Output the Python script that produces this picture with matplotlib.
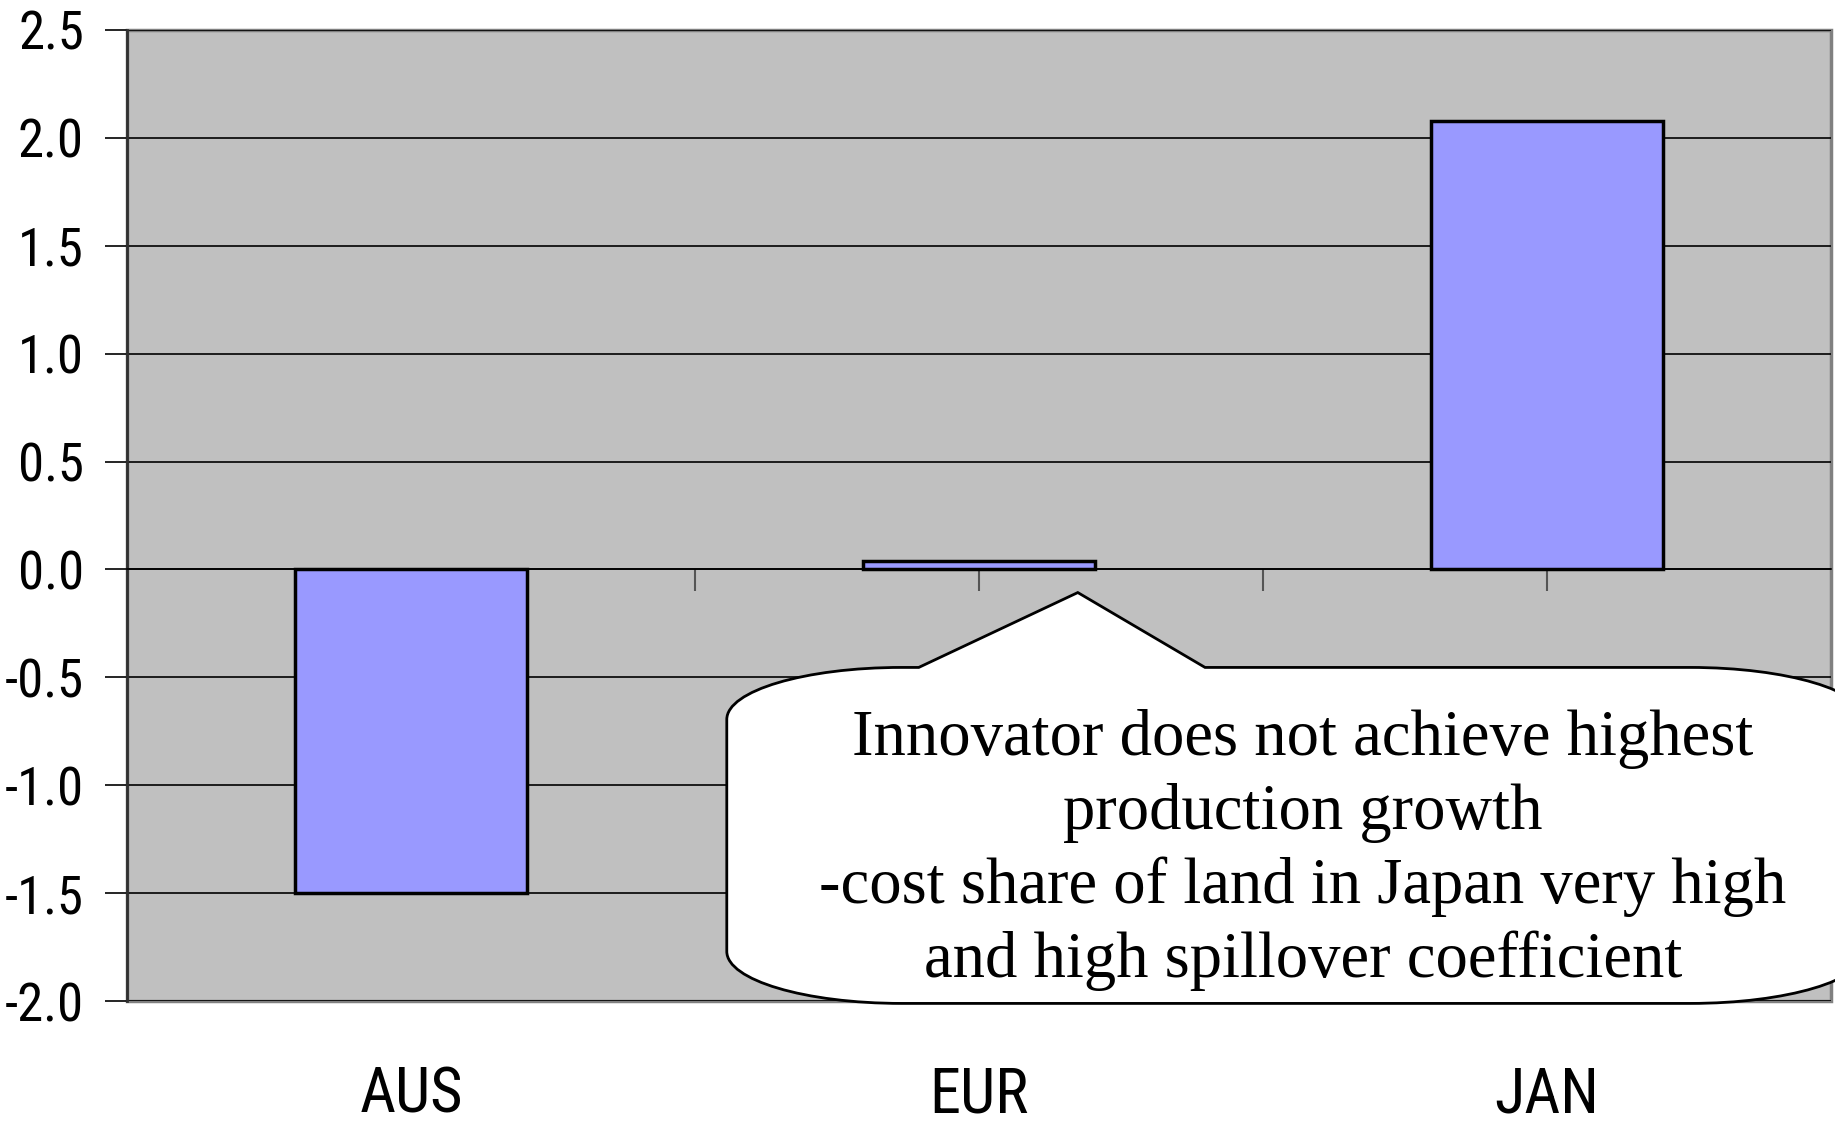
import numpy as np
import matplotlib
matplotlib.use('agg')
import matplotlib.pyplot as plt
from matplotlib import font_manager
from matplotlib.path import Path
from matplotlib.patches import PathPatch
from matplotlib.transforms import blended_transform_factory

# data
regions = ['AUS', 'EUR', 'JAN']
values = [-1.5, 0.04, 2.08]
yticks = [-2.0, -1.5, -1.0, -0.5, 0.0, 0.5, 1.0, 1.5, 2.0, 2.5]
note = ("Innovator does not achieve highest\n"
        "production growth\n"
        "-cost share of land in Japan very high\n"
        "and high spillover coefficient")

# narrow sans like the original, fall back to plain sans at a smaller size
installed = set(f.name for f in font_manager.fontManager.ttflist)
narrow = [n for n in ['Liberation Sans Narrow', 'Roboto Condensed', 'Archivo Narrow']
          if n in installed]
if narrow:
    sans = [narrow[0], 'Liberation Sans', 'DejaVu Sans']
    tick_size, cat_size = 38, 45
else:
    sans = ['Liberation Sans', 'DejaVu Sans']
    tick_size, cat_size = 32, 38
serif = ['Liberation Serif', 'DejaVu Serif']

fig = plt.figure(figsize=(18.35, 11.23), dpi=100)
ax = fig.add_axes([0.0692, 0.1086, 0.9286, 0.8647])

x = np.arange(len(regions))
ax.bar(x, values, width=0.41, color='#9999FF', edgecolor='black',
       linewidth=2.5, zorder=3)

ax.set_xlim(-0.5, len(regions) - 0.5)
ax.set_ylim(-2.0, 2.5)
ax.set_facecolor('#C0C0C0')
ax.patch.set_edgecolor('#808080')
ax.patch.set_linewidth(2.5)

# y axis
ax.set_yticks(yticks)
ax.set_yticklabels(['%.1f' % v for v in yticks], family=sans, fontsize=tick_size)
ax.tick_params(axis='y', direction='out', length=16, width=1.2, pad=15)
ax.grid(axis='y', color='black', linewidth=1.2)
ax.set_axisbelow(True)

# x axis sits on zero, ticks at boundaries and centers
for s in ['top', 'right']:
    ax.spines[s].set_visible(False)
ax.spines['left'].set_color('#303030')
ax.spines['left'].set_linewidth(2)
ax.spines['bottom'].set_position(('data', 0))
ax.spines['bottom'].set_color('black')
ax.spines['bottom'].set_linewidth(1.2)
ax.set_xticks(list(x) + [0.5, 1.5])
ax.set_xticklabels([])
ax.tick_params(axis='x', direction='out', length=16, width=1.5, colors='#555555')

trans = blended_transform_factory(ax.transData, ax.transAxes)
for xi, name in zip(x, regions):
    ax.text(xi, -0.097, name, transform=trans, ha='center', va='center',
            family=sans, fontsize=cat_size)

# callout bubble pointing at EUR
L, R, T, B = 0.556, 2.56, -0.454, -2.011
cw, ch, k = 0.308, 0.241, 0.5523
apex = (1.174, -0.107)
bx0, bx1 = 0.894, 1.398
verts = [
    (L, T - ch),
    (L, T - ch + k * ch), (L + cw - k * cw, T), (L + cw, T),
    (bx0, T), apex, (bx1, T),
    (R - cw, T),
    (R - cw + k * cw, T), (R, T - ch + k * ch), (R, T - ch),
    (R, B + ch),
    (R, B + ch - k * ch), (R - cw + k * cw, B), (R - cw, B),
    (L + cw, B),
    (L + cw - k * cw, B), (L, B + ch - k * ch), (L, B + ch),
    (L, T - ch),
]
codes = ([Path.MOVETO] + [Path.CURVE4] * 3 + [Path.LINETO] * 4 +
         [Path.CURVE4] * 3 + [Path.LINETO] + [Path.CURVE4] * 3 +
         [Path.LINETO] + [Path.CURVE4] * 3 + [Path.CLOSEPOLY])
bubble = PathPatch(Path(verts, codes), facecolor='white', edgecolor='black',
                   linewidth=2, zorder=5, clip_on=False)
ax.add_patch(bubble)
ax.text(1.57, -1.30, note, ha='center', va='center', multialignment='center',
        family=serif, fontsize=46.5, linespacing=1.29, zorder=6)

fig.savefig('out.png', dpi=100)
